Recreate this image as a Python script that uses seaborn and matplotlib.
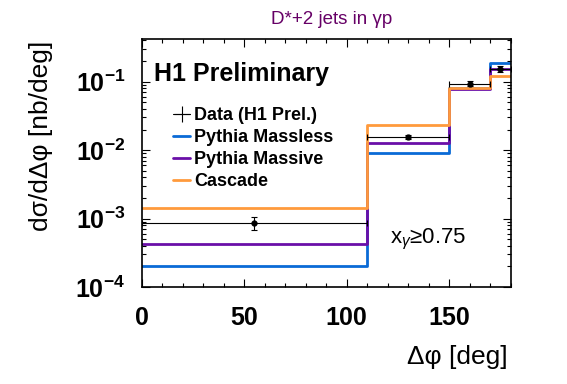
import matplotlib
matplotlib.use("Agg")
import matplotlib.pyplot as plt
from matplotlib.lines import Line2D
from matplotlib.ticker import LogLocator, MultipleLocator, NullFormatter
import seaborn as sns
import numpy as np

# ---- data ----
bin_edges = [0, 110, 150, 170, 180]
bin_centers = [55, 130, 160, 175]
data_vals = [8.7e-4, 0.0157, 0.093, 0.153]
data_err = [2.0e-4, 0.0010, 0.008, 0.015]
massless_vals = [2.05e-4, 0.0090, 0.080, 0.190]
massive_vals = [4.2e-4, 0.0126, 0.079, 0.154]
cascade_vals = [1.42e-3, 0.0233, 0.080, 0.119]
y_ticks = [1e-4, 1e-3, 1e-2, 1e-1]
y_ticklabels = [r"$\mathbf{10^{-4}}$", r"$\mathbf{10^{-3}}$", r"$\mathbf{10^{-2}}$", r"$\mathbf{10^{-1}}$"]
x_ticks = [0, 50, 100, 150]

sns.set_theme(style="white")
plt.rcParams["font.family"] = ["Liberation Sans", "DejaVu Sans"]
plt.rcParams["mathtext.fontset"] = "custom"
plt.rcParams["mathtext.rm"] = "Liberation Sans"
plt.rcParams["mathtext.it"] = "Liberation Sans:italic"
plt.rcParams["mathtext.bf"] = "Liberation Sans:bold"
for k in ["text.color", "axes.labelcolor", "xtick.color", "ytick.color", "axes.edgecolor"]:
    plt.rcParams[k] = "black"

c_blue = "#0a6ad6"
c_purple = "#6a0fa8"
c_orange = "#ff9a3c"

fig = plt.figure(figsize=(5.67, 3.84), dpi=100)
ax = fig.add_axes([141.7 / 567, 97 / 384, (510.5 - 141.7) / 567, (287 - 39) / 384])
ax.set_yscale("log")

for vals, col in [(massless_vals, c_blue), (massive_vals, c_purple), (cascade_vals, c_orange)]:
    sns.histplot(x=bin_centers, weights=vals, bins=bin_edges, element="step",
                 fill=False, color=col, linewidth=2.0, ax=ax, legend=False)

xerr = [np.subtract(bin_centers, bin_edges[:-1]), np.subtract(bin_edges[1:], bin_centers)]
eb = ax.errorbar(bin_centers, data_vals, yerr=data_err, xerr=xerr, fmt="o", color="black",
                 markersize=3.5, elinewidth=0.8, capsize=2.5, capthick=0.8, zorder=5)

ax.set_xlim(0, 180)
ax.set_ylim(1e-4, 0.42)
ax.set_xlabel("")
ax.set_ylabel("")

ax.set_xticks(x_ticks)
ax.set_xticklabels([str(t) for t in x_ticks], fontsize=18, fontweight="bold", color="black")
ax.xaxis.set_minor_locator(MultipleLocator(10))
ax.set_yticks(y_ticks)
ax.set_yticklabels(y_ticklabels, fontsize=18, color="black")
ax.yaxis.set_minor_locator(LogLocator(base=10, subs=np.arange(2, 10)))
ax.yaxis.set_minor_formatter(NullFormatter())

ax.tick_params(which="both", direction="in", top=True, right=True, bottom=True, left=True,
               color="black", labelcolor="black")
ax.tick_params(which="major", length=6, width=0.8)
ax.tick_params(which="minor", length=3, width=0.8)
ax.tick_params(axis="x", which="major", pad=14)
ax.tick_params(axis="y", which="major", pad=12)
for s in ax.spines.values():
    s.set_color("black")
    s.set_linewidth(1.2)

# texts
fig.text(332 / 567, 1 - 19 / 384, "D*+2 jets in γp", color="#660066", fontsize=13.5,
         ha="center", va="center")
fig.text(154 / 567, 1 - 74 / 384, "H1 Preliminary", color="black",
         fontsize=18, fontweight="bold", ha="left", va="center")
fig.text(390 / 567, 1 - 243 / 384, r"x$_{\gamma}$≥0.75", color="black", fontsize=16,
         ha="left", va="baseline")
fig.text(508 / 567, 1 - 357 / 384, "Δφ [deg]", color="black", fontsize=19, ha="right", va="center")
fig.text(41 / 567, 1 - 136 / 384, "dσ/dΔφ [nb/deg]", color="black", fontsize=19, rotation=90,
         ha="center", va="center")

handles = [Line2D([], [], color="black", lw=0.8, marker="+", markersize=12,
                  markeredgewidth=0.8),
           Line2D([], [], color=c_blue, lw=2.0),
           Line2D([], [], color=c_purple, lw=2.0),
           Line2D([], [], color=c_orange, lw=2.0)]
labels = ["Data (H1 Prel.)", "Pythia Massless", "Pythia Massive", "Cascade"]
leg = ax.legend(handles, labels, loc="upper left", bbox_to_anchor=(173 / 567, 1 - 107 / 384),
                bbox_transform=fig.transFigure, frameon=False, borderpad=0, borderaxespad=0,
                handlelength=0.95, handletextpad=0.2, labelspacing=0.28,
                prop={"weight": "bold", "size": 13})
for t in leg.get_texts():
    t.set_color("black")

fig.savefig("out.png", dpi=100)
